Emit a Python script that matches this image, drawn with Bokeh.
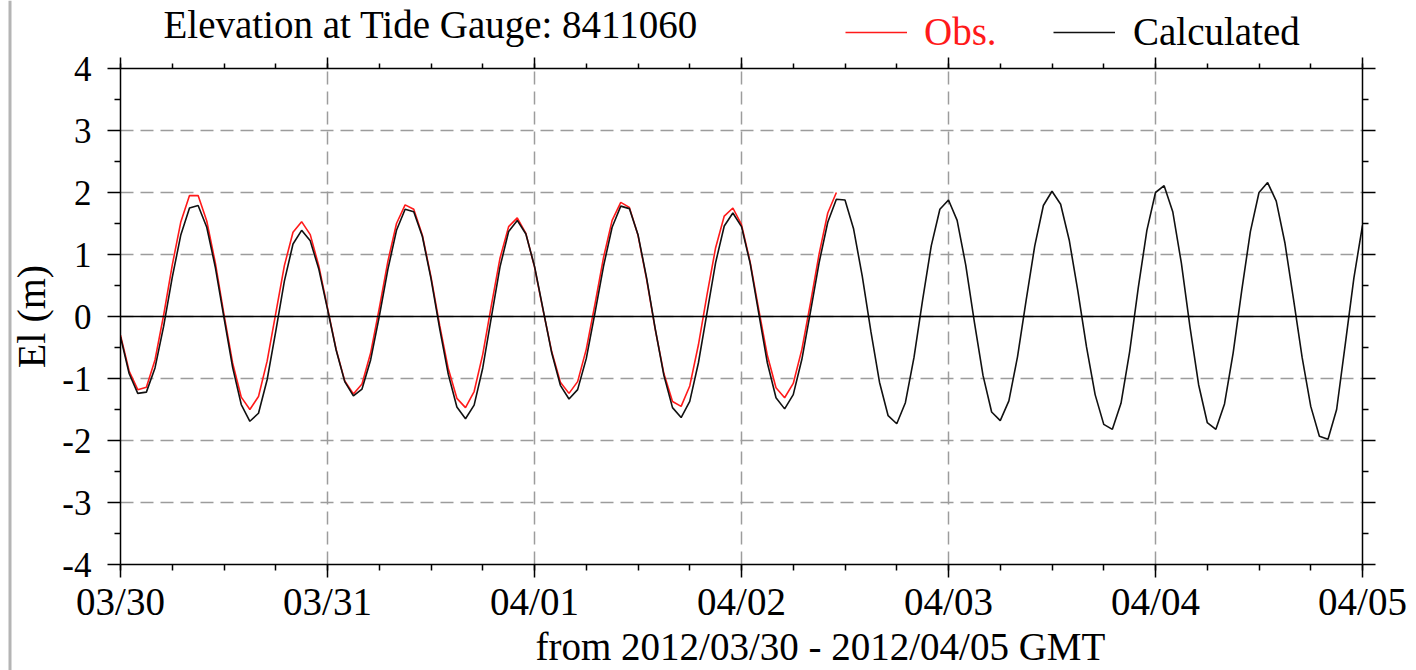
from bokeh.plotting import figure
from bokeh.models import (FixedTicker, LinearAxis, Span, Label, Legend, LegendItem,
                          Range1d, ColumnDataSource)
from bokeh.embed import file_html
from bokeh.resources import INLINE

# ---------------- data ----------------
title_text = "Elevation at Tide Gauge: 8411060"
x_label = "from 2012/03/30 - 2012/04/05 GMT"
y_label = "El (m)"
day_ticks = [0, 24, 48, 72, 96, 120, 144]          # hours since 2012/03/30 00:00 GMT
day_labels = ["03/30", "03/31", "04/01", "04/02", "04/03", "04/04", "04/05"]
minor_hour_ticks = [h for h in range(0, 145, 6)]
y_ticks = [-4, -3, -2, -1, 0, 1, 2, 3, 4]
y_tick_labels = ["-4", "-3", "-2", "-1", "0", "1", "2", "3", "4"]
y_minor = [-3.5, -2.5, -1.5, -0.5, 0.5, 1.5, 2.5, 3.5]

calc_hours = list(range(0, 145))
calc_el = [
    -0.33, -0.92, -1.24, -1.22, -0.83, -0.16, 0.63, 1.32, 1.75, 1.79,
    1.44, 0.79, -0.02, -0.82, -1.42, -1.69, -1.56, -1.02, -0.24, 0.57,
    1.17, 1.39, 1.22, 0.76, 0.12, -0.54, -1.05, -1.28, -1.17, -0.70,
    0.00, 0.76, 1.39, 1.73, 1.69, 1.29, 0.61, -0.19, -0.93, -1.46,
    -1.65, -1.43, -0.83, -0.01, 0.80, 1.37, 1.55, 1.33, 0.81, 0.11,
    -0.59, -1.11, -1.33, -1.18, -0.68, 0.05, 0.81, 1.44, 1.78, 1.74,
    1.32, 0.62, -0.20, -0.95, -1.47, -1.63, -1.37, -0.75, 0.06, 0.87,
    1.46, 1.67, 1.45, 0.86, 0.05, -0.75, -1.31, -1.49, -1.26, -0.69,
    0.08, 0.87, 1.52, 1.89, 1.88, 1.41, 0.65, -0.24, -1.06, -1.60,
    -1.73, -1.39, -0.66, 0.27, 1.14, 1.73, 1.88, 1.55, 0.83, -0.09,
    -0.95, -1.54, -1.68, -1.36, -0.65, 0.26, 1.14, 1.79, 2.02, 1.81,
    1.23, 0.41, -0.49, -1.26, -1.74, -1.82, -1.40, -0.57, 0.46, 1.39,
    2.00, 2.11, 1.69, 0.86, -0.17, -1.10, -1.71, -1.82, -1.41, -0.59,
    0.42, 1.37, 2.00, 2.16, 1.86, 1.19, 0.28, -0.66, -1.45, -1.93,
    -1.98, -1.50, -0.45, 0.62, 1.47,
]

obs_hours = list(range(0, 84))
obs_el = [
    -0.30, -0.88, -1.18, -1.14, -0.70, 0.02, 0.83, 1.53, 1.95, 1.95,
    1.54, 0.86, 0.03, -0.75, -1.30, -1.50, -1.29, -0.72, 0.05, 0.82,
    1.36, 1.53, 1.32, 0.81, 0.14, -0.53, -1.04, -1.25, -1.09, -0.59,
    0.13, 0.89, 1.50, 1.80, 1.73, 1.31, 0.64, -0.14, -0.84, -1.32,
    -1.47, -1.21, -0.61, 0.18, 0.94, 1.45, 1.59, 1.34, 0.80, 0.10,
    -0.57, -1.06, -1.24, -1.05, -0.53, 0.19, 0.95, 1.55, 1.84, 1.76,
    1.31, 0.60, -0.21, -0.92, -1.37, -1.45, -1.12, -0.46, 0.35, 1.11,
    1.62, 1.75, 1.48, 0.88, 0.11, -0.63, -1.15, -1.31, -1.08, -0.53,
    0.22, 1.01, 1.67, 2.00,
]

# ---------------- styling constants ----------------
FONT = "Liberation Serif"
GRID = "#9c9c9c"
RED = "#ff1a1a"
BLACK = "#111111"
W, H = 1416, 670

# ---------------- main plot ----------------
p = figure(width=W, height=H, output_backend="svg", toolbar_location=None,
           x_range=Range1d(0, 144), y_range=Range1d(-4, 4),
           min_border_left=120, min_border_right=54, min_border_top=68,
           min_border_bottom=106)
p.outline_line_color = None
p.background_fill_color = "white"
p.border_fill_color = "white"

xticker = FixedTicker(ticks=day_ticks, minor_ticks=minor_hour_ticks)
yticker = FixedTicker(ticks=y_ticks, minor_ticks=y_minor)


def style_axis(ax, labels=True):
    ax.axis_line_color = "black"
    ax.axis_line_width = 1.5
    ax.major_tick_line_color = "black"
    ax.major_tick_line_width = 1.5
    ax.minor_tick_line_color = "black"
    ax.minor_tick_line_width = 1.5
    ax.major_tick_out = 13
    ax.major_tick_in = 0
    ax.minor_tick_out = 6
    ax.minor_tick_in = 0
    ax.major_label_text_font = FONT
    ax.major_label_text_color = "black"
    ax.axis_label_text_font = FONT
    ax.axis_label_text_font_style = "normal"
    ax.axis_label_text_color = "black"
    if not labels:
        ax.major_label_text_color = None
        ax.major_label_standoff = 0


xa = p.xaxis[0]
xa.ticker = xticker
xa.major_label_overrides = {t: l for t, l in zip(day_ticks, day_labels)}
style_axis(xa)
xa.major_label_text_font_size = "39px"
xa.major_label_standoff = 2

ya = p.yaxis[0]
ya.ticker = yticker
ya.major_label_overrides = {t: l for t, l in zip(y_ticks, y_tick_labels)}
style_axis(ya)
ya.major_label_text_font_size = "35px"
ya.major_label_standoff = 16
ya.axis_label = y_label
ya.axis_label_text_font_size = "40px"
ya.axis_label_standoff = 5

top_ax = LinearAxis(ticker=xticker)
style_axis(top_ax, labels=False)
top_ax.major_tick_out = 11
top_ax.minor_tick_out = 5
p.add_layout(top_ax, "above")
right_ax = LinearAxis(ticker=yticker)
style_axis(right_ax, labels=False)
p.add_layout(right_ax, "right")

for g, tk in ((p.xgrid[0], xticker), (p.ygrid[0], yticker)):
    g.ticker = tk
    g.grid_line_color = GRID
    g.grid_line_width = 1.5
    g.grid_line_dash = "13 7"

p.add_layout(Span(location=0, dimension="width", line_color="black", line_width=1.5))

src_obs = ColumnDataSource(dict(h=obs_hours, el=obs_el))
src_calc = ColumnDataSource(dict(h=calc_hours, el=calc_el))
p.line("h", "el", source=src_obs, line_color=RED, line_width=1.6)
p.line("h", "el", source=src_calc, line_color=BLACK, line_width=1.6)

# ---------------- transparent overlay for title, legend and caption ----------------
ov = figure(width=W, height=H, output_backend="svg", toolbar_location=None,
            x_range=Range1d(0, W), y_range=Range1d(H, 0),
            x_axis_type=None, y_axis_type=None,
            min_border_left=0, min_border_right=0, min_border_top=0, min_border_bottom=0,
            styles={"position": "absolute", "top": "0px", "left": "0px",
                    "pointer-events": "none"})
ov.outline_line_color = None
ov.background_fill_alpha = 0
ov.border_fill_alpha = 0

ov.add_layout(Label(x=163, y=24, text=title_text, text_font=FONT, text_font_size="39px",
                    text_color="black", text_baseline="middle", text_align="left"))
ov.add_layout(Label(x=535, y=646, text=x_label, text_font=FONT, text_font_size="39px",
                    text_color="black", text_baseline="middle", text_align="left"))
ov.add_layout(Span(location=9.5, dimension="height", line_color="#b4b4b4", line_width=3))

leg_r_obs = ov.line(x=obs_hours[:1], y=obs_el[:1], line_color=RED, line_width=1.6)
leg_r_calc = ov.line(x=calc_hours[:1], y=calc_el[:1], line_color=BLACK, line_width=1.6)
common = dict(orientation="horizontal", border_line_color=None, background_fill_alpha=0,
              padding=0, margin=0, glyph_width=62, glyph_height=20,
              label_text_font=FONT, label_text_font_size="39px", spacing=0)
leg_obs = Legend(items=[LegendItem(label="Obs.", renderers=[leg_r_obs])], location=(845, 616),
                 label_text_color=RED, label_standoff=17, **common)
leg_calc = Legend(items=[LegendItem(label="Calculated", renderers=[leg_r_calc])],
                  location=(1053, 616), label_text_color="black", label_standoff=18, **common)
ov.add_layout(leg_obs)
ov.add_layout(leg_calc)

open("out.html", "w").write(file_html([p, ov], INLINE))
